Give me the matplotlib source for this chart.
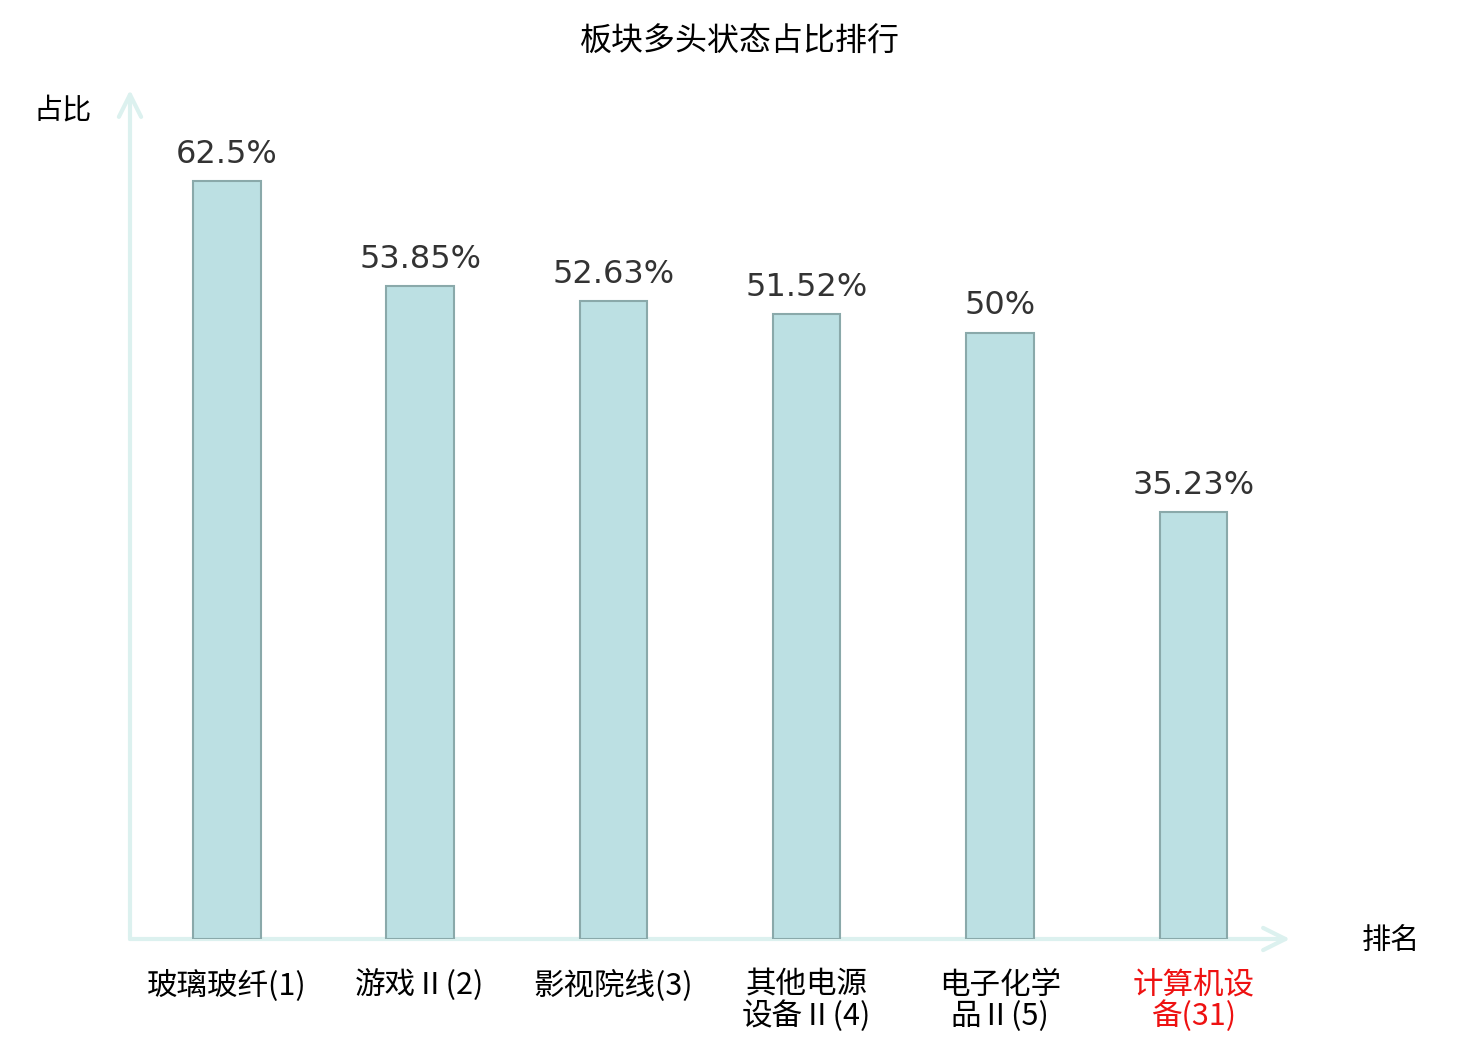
import matplotlib.pyplot as plt

plt.rcParams['font.family'] = ['Noto Sans CJK SC', 'DejaVu Sans']

# data
categories = ["玻璃玻纤(1)", "游戏Ⅱ(2)", "影视院线(3)", "其他电源\n设备Ⅱ(4)", "电子化学\n品Ⅱ(5)", "计算机设\n备(31)"]
values = [62.5, 53.85, 52.63, 51.52, 50, 35.23]
value_labels = ["62.5%", "53.85%", "52.63%", "51.52%", "50%", "35.23%"]
label_colors = ["black", "black", "black", "black", "black", "#ee1111"]

fig = plt.figure(figsize=(14.8, 10.4), dpi=100)
ax = fig.add_axes([130 / 1480, 101 / 1040, 1160 / 1480, 849 / 1040])

x = list(range(len(categories)))
ax.bar(x, values, width=0.35, color="#bce0e3", edgecolor="#8aa9aa", linewidth=1.5, zorder=3)

for xi, v, lab in zip(x, values, value_labels):
    ax.annotate(lab, (xi, v), xytext=(0, 8), textcoords="offset points",
                ha="center", va="bottom", fontsize=23, color="#333333",
                family="DejaVu Sans")

ax.set_xlim(-0.5, 5.5)
ax.set_ylim(0, 70)
ax.set_xticks(x)
ax.set_xticklabels(categories, fontsize=22, linespacing=1.0)
for t, c in zip(ax.get_xticklabels(), label_colors):
    t.set_color(c)
ax.tick_params(axis="x", length=0, pad=22)
ax.set_yticks([])
for s in ax.spines.values():
    s.set_visible(False)

# axis arrows
arrow_kw = dict(arrowstyle="->", color="#dcf1ef", lw=3, mutation_scale=40, shrinkA=0, shrinkB=0)
ax.annotate("", xy=(1, 0), xytext=(0, 0), xycoords="axes fraction", arrowprops=arrow_kw, zorder=2)
ax.annotate("", xy=(0, 1), xytext=(0, 0), xycoords="axes fraction", arrowprops=arrow_kw, zorder=2)

fig.text(740 / 1480, 1 - 42 / 1040, "板块多头状态占比排行", ha="center", va="center", fontsize=23)
fig.text(63 / 1480, 1 - 110 / 1040, "占比", ha="center", va="center", fontsize=21)
fig.text(1391 / 1480, 1 - 941 / 1040, "排名", ha="center", va="center", fontsize=21)

fig.savefig("out.png", dpi=100)
